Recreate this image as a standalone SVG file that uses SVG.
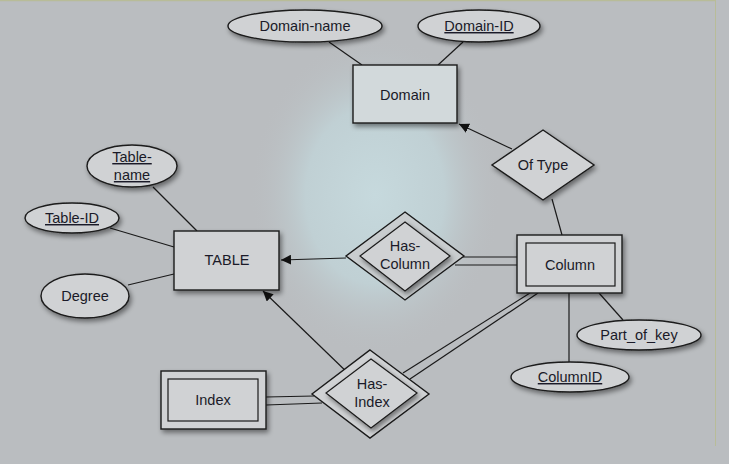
<svg xmlns="http://www.w3.org/2000/svg" width="729" height="464" viewBox="0 0 729 464">
<defs>
<radialGradient id="glow" cx="375" cy="195" r="140" gradientUnits="userSpaceOnUse" gradientTransform="translate(375 195) scale(0.9 1.15) translate(-375 -195)">
<stop offset="0" stop-color="#c6d9dd"/>
<stop offset="0.55" stop-color="#c0d0d4"/>
<stop offset="1" stop-color="#babdc0" stop-opacity="0"/>
</radialGradient>
<filter id="sh" x="-20%" y="-20%" width="150%" height="160%">
<feDropShadow dx="2" dy="3" stdDeviation="2.5" flood-color="#000" flood-opacity="0.45"/>
</filter>
<marker id="arr" viewBox="0 0 10 10" refX="10" refY="5" markerWidth="10" markerHeight="10" markerUnits="userSpaceOnUse" orient="auto">
<path d="M0,0 L10,5 L0,10 z" fill="#111"/>
</marker>
</defs>
<style>
.bg{fill:#babdc0}
.shape{fill:#d0d2d4;stroke:#1a1a1a;stroke-width:1.4}
.inner{fill:#d0d2d4;stroke:#1a1a1a;stroke-width:1.2}
.ln{stroke:#1a1a1a;stroke-width:1.2;fill:none}
.t{font-family:"Liberation Sans",Arial,sans-serif;font-size:14.5px;fill:#1a1a28;text-anchor:middle}
.u{text-decoration:underline}
</style>
<rect class="bg" x="0" y="0" width="729" height="464"/>
<rect x="0" y="0" width="729" height="464" fill="url(#glow)"/>
<line x1="0" y1="0.5" x2="716" y2="0.5" stroke="#b8bc98" stroke-width="1.5"/>
<line x1="715.5" y1="0" x2="715.5" y2="446" stroke="#b8bc98" stroke-width="1"/>

<g id="connectors">
<line class="ln" x1="329" y1="42" x2="362" y2="65"/>
<line class="ln" x1="463" y1="42" x2="438" y2="65"/>
<line class="ln" x1="512" y1="149" x2="459" y2="124" marker-end="url(#arr)"/>
<line class="ln" x1="552" y1="199" x2="562" y2="235"/>
<line class="ln" x1="153" y1="187" x2="197" y2="231"/>
<line class="ln" x1="110" y1="228" x2="174" y2="247"/>
<line class="ln" x1="128" y1="285" x2="174" y2="274"/>
<line class="ln" x1="346" y1="258" x2="281" y2="260" marker-end="url(#arr)"/>
<line class="ln" x1="352" y1="377" x2="263" y2="291" marker-end="url(#arr)"/>
<line class="ln" x1="458" y1="257" x2="517" y2="257"/>
<line class="ln" x1="455" y1="265" x2="517" y2="265"/>
<line class="ln" x1="530" y1="293" x2="403" y2="373"/>
<line class="ln" x1="538" y1="293" x2="410" y2="379"/>
<line class="ln" x1="266" y1="397" x2="314" y2="396"/>
<line class="ln" x1="266" y1="405" x2="322" y2="403"/>
<line class="ln" x1="569" y1="293" x2="569" y2="362"/>
<line class="ln" x1="599" y1="293" x2="623" y2="320"/>
</g>

<g id="domain-name"><ellipse class="shape" filter="url(#sh)" cx="305" cy="26" rx="77" ry="16"/><text class="t" x="305" y="31">Domain-name</text></g>
<g id="domain-id"><ellipse class="shape" filter="url(#sh)" cx="479" cy="26" rx="61" ry="16"/><text class="t u" x="479" y="31">Domain-ID</text></g>
<g id="domain"><rect class="shape" filter="url(#sh)" x="353" y="65" width="104" height="58" style="fill:#d2d9db"/><text class="t" x="405" y="100">Domain</text></g>
<g id="of-type"><polygon class="shape" filter="url(#sh)" points="543,130 594,165 543,200 492,165"/><text class="t" x="543" y="170">Of Type</text></g>

<g id="table-name"><ellipse class="shape" filter="url(#sh)" cx="132" cy="166" rx="45" ry="21"/><text class="t u" x="132" y="162">Table-</text><text class="t u" x="132" y="180">name</text></g>
<g id="table-id"><ellipse class="shape" filter="url(#sh)" cx="72" cy="218" rx="47" ry="15"/><text class="t u" x="72" y="223">Table-ID</text></g>
<g id="degree"><ellipse class="shape" filter="url(#sh)" cx="85" cy="296" rx="44" ry="22"/><text class="t" x="85" y="301">Degree</text></g>
<g id="table"><rect class="shape" filter="url(#sh)" x="174" y="231" width="105" height="59"/><text class="t" x="227" y="265">TABLE</text></g>

<g id="has-column"><polygon class="shape" points="405,212 464,256 405,300 346,256" style="fill:#c9cdcf"/><polygon class="inner" filter="url(#sh)" points="405,222 450,256 405,291 360,256"/><text class="t" x="405" y="251">Has-</text><text class="t" x="405" y="269">Column</text></g>

<g id="column"><rect class="shape" filter="url(#sh)" x="517" y="235" width="105" height="58"/><rect class="inner" x="526" y="243" width="89" height="43"/><text class="t" x="570" y="270">Column</text></g>

<g id="part-of-key"><ellipse class="shape" filter="url(#sh)" cx="639" cy="335" rx="62" ry="15"/><text class="t" x="639" y="340">Part_of_key</text></g>
<g id="columnid"><ellipse class="shape" filter="url(#sh)" cx="570" cy="377" rx="59" ry="15"/><text class="t u" x="570" y="382">ColumnID</text></g>

<g id="has-index"><polygon class="shape" points="370,350 429,394 370,438 312,394"/><polygon class="inner" filter="url(#sh)" points="371,359 417,393 371,428 326,393"/><text class="t" x="372" y="389">Has-</text><text class="t" x="372" y="407">Index</text></g>

<g id="index"><rect class="shape" filter="url(#sh)" x="161" y="371" width="105" height="58"/><rect class="inner" x="168" y="379" width="90" height="42"/><text class="t" x="213" y="405">Index</text></g>
</svg>
